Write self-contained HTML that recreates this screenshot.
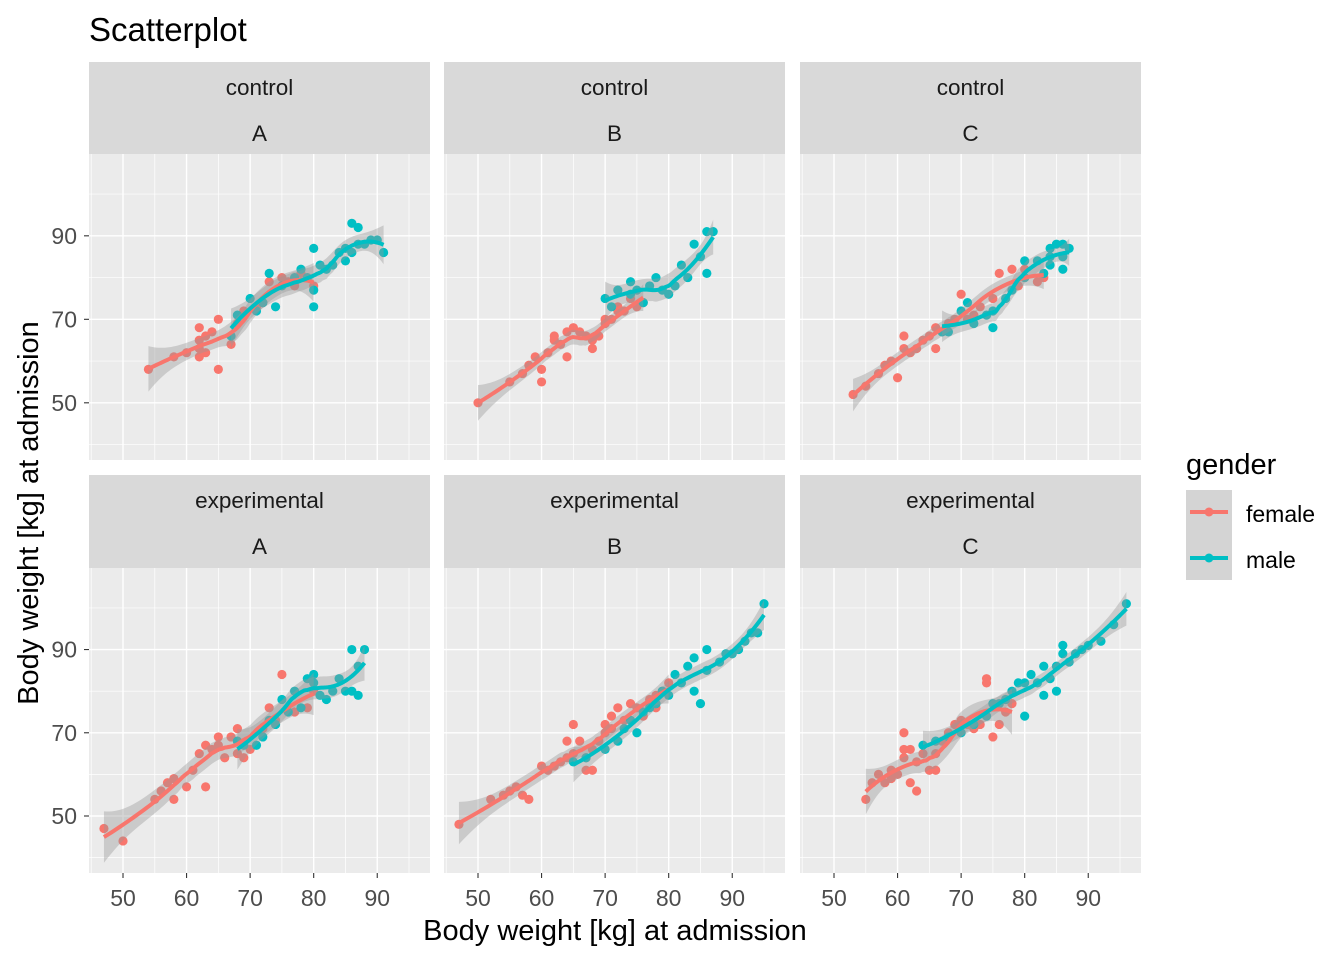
<!DOCTYPE html>
<html><head><meta charset="utf-8">
<style>
body{margin:0;background:#fff;}
svg text{font-family:"Liberation Sans",Arial,sans-serif;}
</style></head>
<body>
<svg id="chart" width="1344" height="960" xmlns="http://www.w3.org/2000/svg">
<rect width="1344" height="960" fill="#fff"/>
<text x="89" y="41" font-size="33" fill="#000">Scatterplot</text>
<text x="615" y="940" font-size="29" text-anchor="middle" fill="#000">Body weight [kg] at admission</text>
<text transform="translate(38,513) rotate(-90)" font-size="29" text-anchor="middle" fill="#000">Body weight [kg] at admission</text>
<g id="legend">
<text x="1186" y="474" font-size="29" fill="#000">gender</text>
<rect x="1186" y="490" width="46" height="45" fill="#d4d4d4"/>
<rect x="1186" y="535" width="46" height="45" fill="#d4d4d4"/>
<line x1="1190" y1="512" x2="1228" y2="512" stroke="#F8766D" stroke-width="4"/>
<circle cx="1209" cy="512" r="4.5" fill="#F8766D"/>
<line x1="1190" y1="558" x2="1228" y2="558" stroke="#00BFC4" stroke-width="4"/>
<circle cx="1209" cy="558" r="4.5" fill="#00BFC4"/>
<text x="1246" y="522" font-size="23" fill="#000">female</text>
<text x="1246" y="568" font-size="23" fill="#000">male</text>
</g>
</svg>
<script>
const NS="http://www.w3.org/2000/svg";
const svg=document.getElementById('chart');
const xTicks=[50,60,70,80,90];
const yTicks=[50,70,90];
const xDomain=[44.65,98.3];
const yDomain=[36.3,109.6];
const groupNames=['control','experimental'];
const siteNames=['A','B','C'];
const femaleCA=[[54,58],[58,61],[60,62],[62,61],[62,63],[62,65],[62,68],[63,66],[64,67],[65,70],[65,58],[63,62],[67,64],[68,69],[69,72],[71,73],[72,74],[73,79],[75,80],[77,78],[78,81],[80,78],[76,79]];
const maleCA=[[67,66],[68,71],[70,75],[71,72],[72,74],[73,81],[74,73],[75,78],[77,80],[78,82],[80,87],[80,77],[80,73],[81,83],[82,82],[83,83],[84,86],[85,87],[86,93],[87,92],[86,86],[85,84],[88,88],[89,89],[90,89],[91,86],[87,88],[79,80]];
const femaleCB=[[50,50],[55,55],[57,57],[58,59],[59,61],[60,55],[60,58],[61,62],[62,65],[62,66],[63,64],[64,67],[65,68],[66,67],[67,66],[68,63],[68,65],[69,66],[70,70],[72,73],[70,69],[71,70],[72,72],[73,72],[74,75],[75,73],[76,74],[64,61]];
const maleCB=[[70,75],[71,73],[72,77],[74,79],[74,76],[75,77],[76,74],[77,78],[78,80],[79,77],[80,76],[81,78],[82,83],[83,80],[84,88],[86,81],[86,91],[87,91],[85,85]];
const femaleCC=[[53,52],[55,54],[57,57],[58,59],[59,60],[60,56],[61,66],[61,63],[62,62],[63,63],[64,65],[65,66],[66,63],[66,68],[67,67],[68,69],[69,70],[70,76],[71,70],[72,71],[73,73],[75,75],[76,81],[78,82],[80,82],[82,79],[83,80],[79,78]];
const maleCC=[[67,67],[68,67],[70,72],[71,74],[72,69],[74,71],[75,68],[75,72],[77,75],[78,77],[80,84],[80,80],[82,84],[83,81],[84,87],[84,83],[85,88],[86,88],[86,85],[87,87],[86,82],[84,85]];
const femaleEA=[[47,47],[50,44],[55,54],[56,56],[57,58],[58,54],[58,59],[60,57],[61,61],[62,65],[63,67],[63,57],[64,66],[65,67],[65,69],[66,64],[67,69],[68,71],[68,65],[69,64],[70,66],[72,71],[73,76],[75,84],[74,73],[77,75],[80,80],[79,76]];
const maleEA=[[68,68],[69,67],[71,67],[72,69],[73,73],[74,72],[75,78],[76,75],[77,80],[78,76],[79,83],[80,84],[80,82],[81,79],[82,78],[83,80],[84,83],[85,80],[86,80],[86,90],[87,79],[88,90],[87,86]];
const femaleEB=[[47,48],[52,54],[54,55],[55,56],[56,57],[57,55],[58,54],[60,62],[61,61],[62,62],[63,63],[64,64],[64,68],[65,65],[65,72],[66,68],[67,61],[67,64],[68,61],[68,66],[69,68],[70,70],[70,72],[71,71],[71,74],[72,76],[73,73],[74,77],[75,76],[76,74],[77,78],[78,79],[79,80],[80,82],[78,76]];
const maleEB=[[65,63],[67,64],[70,66],[72,68],[73,71],[74,73],[75,70],[76,75],[77,76],[78,77],[79,80],[80,79],[81,84],[82,82],[83,86],[84,80],[84,88],[85,77],[86,90],[86,85],[88,87],[89,89],[90,89],[91,90],[92,92],[93,94],[95,101],[94,94]];
const femaleEC=[[55,54],[56,58],[57,60],[58,58],[59,61],[59,59],[60,60],[61,64],[61,70],[61,66],[62,66],[62,58],[63,63],[63,56],[64,65],[65,61],[66,61],[66,65],[67,68],[68,70],[69,72],[70,73],[71,72],[72,71],[73,72],[74,83],[74,82],[75,69],[76,72],[77,75],[78,77]];
const maleEC=[[64,67],[66,68],[68,69],[70,70],[72,72],[74,74],[75,77],[76,77],[77,78],[78,80],[79,82],[80,82],[80,74],[81,84],[82,82],[83,86],[83,79],[84,83],[85,86],[85,80],[86,89],[86,91],[87,87],[88,89],[89,90],[90,91],[92,92],[94,96],[96,101]];
const panelData=[[[femaleCA,maleCA],[femaleCB,maleCB],[femaleCC,maleCC]],[[femaleEA,maleEA],[femaleEB,maleEB],[femaleEC,maleEC]]];
const colors=['#F8766D','#00BFC4'];
const genders=['female','male'];
const colLeft=[89,444,800], colW=341;
const rowStrip=[62,475], rowTop=[154,568], rowH=[306,305];

function el(tag,attrs,parent){const e=document.createElementNS(NS,tag);for(const k in attrs)e.setAttribute(k,attrs[k]);(parent||svg).appendChild(e);return e;}

function solve3(A,b){
  const M=A.map((r,i)=>r.concat([b[i]]));
  for(let i=0;i<3;i++){let p=i;for(let j=i+1;j<3;j++)if(Math.abs(M[j][i])>Math.abs(M[p][i]))p=j;[M[i],M[p]]=[M[p],M[i]];
    const d=M[i][i]||1e-12;for(let j=i;j<4;j++)M[i][j]/=d;
    for(let k=0;k<3;k++)if(k!==i){const f=M[k][i];for(let j=i;j<4;j++)M[k][j]-=f*M[i][j];}}
  return M.map(r=>r[3]);
}
function loess(pts,span){
  const n=pts.length, xs=pts.map(p=>p[0]);
  const k=Math.max(4,Math.ceil(span*n));
  function weights(x0){
    const d=xs.map(x=>Math.abs(x-x0)).sort((a,b)=>a-b);
    const h=Math.max(d[Math.min(k,n)-1],1e-6)*1.0001;
    const w=xs.map(x=>{const u=Math.abs(x-x0)/h;return u<1?Math.pow(1-u*u*u,3):0;});
    const A=[[0,0,0],[0,0,0],[0,0,0]];
    for(let i=0;i<n;i++){const z=[1,xs[i]-x0,(xs[i]-x0)*(xs[i]-x0)];for(let a=0;a<3;a++)for(let b=0;b<3;b++)A[a][b]+=w[i]*z[a]*z[b];}
    for(let a=0;a<3;a++)A[a][a]+=1e-8;
    const c=solve3(A,[1,0,0]);
    return xs.map((x,i)=>{const t=x-x0;return w[i]*(c[0]+c[1]*t+c[2]*t*t);});
  }
  let rss=0;
  pts.forEach(p=>{const l=weights(p[0]);let f=0;l.forEach((li,i)=>f+=li*pts[i][1]);rss+=(p[1]-f)*(p[1]-f);});
  const sigma=Math.sqrt(rss/Math.max(n-5,1));
  const lo=Math.min(...xs),hi=Math.max(...xs),out=[];
  for(let j=0;j<=80;j++){const x0=lo+(hi-lo)*j/80;const l=weights(x0);let f=0,s2=0;l.forEach((li,i)=>{f+=li*pts[i][1];s2+=li*li;});out.push([x0,f,2.05*sigma*Math.sqrt(s2)]);}
  return out;
}

for(let r=0;r<2;r++){for(let c=0;c<3;c++){
  const L=colLeft[c],T=rowTop[r],H=rowH[r];
  const sx=v=>L+(v-xDomain[0])/(xDomain[1]-xDomain[0])*colW;
  const sy=v=>T+(yDomain[1]-v)/(yDomain[1]-yDomain[0])*H;
  const g=el('g',{});
  
  
  const s=el('rect',{x:L,y:rowStrip[r],width:colW,height:T-rowStrip[r],fill:'#D9D9D9'},g);
  
  
  const t1=el('text',{x:L+colW/2,y:rowStrip[r]+33,'font-size':'22.5','text-anchor':'middle',fill:'#1A1A1A'},g);t1.textContent=groupNames[r];
  
  
  const t2=el('text',{x:L+colW/2,y:rowStrip[r]+79,'font-size':'22.5','text-anchor':'middle',fill:'#1A1A1A'},g);t2.textContent=siteNames[c];
  
  
  el('rect',{x:L,y:T,width:colW,height:H,fill:'#EBEBEB'},g);
  const gl=el('g',{},g);
  for(let v=45;v<=95;v+=10)el('line',{x1:sx(v),x2:sx(v),y1:T,y2:T+H,stroke:'#fff','stroke-width':0.7},gl);
  for(let v=40;v<=100;v+=20)el('line',{x1:L,x2:L+colW,y1:sy(v),y2:sy(v),stroke:'#fff','stroke-width':0.7},gl);
  xTicks.forEach(v=>el('line',{x1:sx(v),x2:sx(v),y1:T,y2:T+H,stroke:'#fff','stroke-width':1.4},gl));
  yTicks.forEach(v=>el('line',{x1:L,x2:L+colW,y1:sy(v),y2:sy(v),stroke:'#fff','stroke-width':1.4},gl));
  if(c===0){yTicks.forEach(v=>{el('line',{x1:L-5,x2:L,y1:sy(v),y2:sy(v),stroke:'#333','stroke-width':1.1});const t=el('text',{x:L-12,y:sy(v)+8,'font-size':'23','text-anchor':'end',fill:'#4D4D4D'});t.textContent=v;
    
    });}
  if(r===1){xTicks.forEach(v=>{el('line',{x1:sx(v),x2:sx(v),y1:T+H,y2:T+H+5,stroke:'#333','stroke-width':1.1});const t=el('text',{x:sx(v),y:T+H+33,'font-size':'23','text-anchor':'middle',fill:'#4D4D4D'});t.textContent=v;
    
    });}
  const fits=[];
  for(let gi=0;gi<2;gi++){
    const pts=panelData[r][c][gi];
    pts.forEach(p=>{const ci=el('circle',{cx:sx(p[0]),cy:sy(p[1]),r:4.6,fill:colors[gi]},g);
      
      });
    fits.push(loess(pts,0.75));
  }
  for(let gi=0;gi<2;gi++){
    const f=fits[gi];
    const up=f.map(q=>sx(q[0])+','+sy(q[1]+q[2])).join(' ');
    const dn=f.slice().reverse().map(q=>sx(q[0])+','+sy(q[1]-q[2])).join(' ');
    const band=el('polygon',{points:up+' '+dn,fill:'#999','fill-opacity':0.4},g);
    
    
  }
  for(let gi=0;gi<2;gi++){
    const ln=el('polyline',{points:fits[gi].map(q=>sx(q[0])+','+sy(q[1])).join(' '),fill:'none',stroke:colors[gi],'stroke-width':4,'stroke-linejoin':'round'},g);
    
    
  }
}}
</script>
</body></html>
